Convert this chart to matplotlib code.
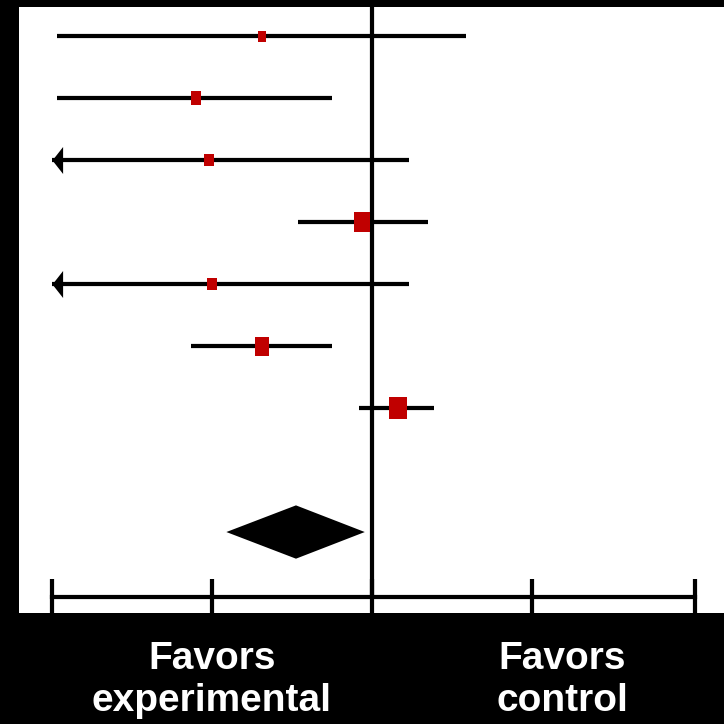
import matplotlib
matplotlib.use("Agg")
import matplotlib.pyplot as plt

# ---- data (log-scale effect units) ----
est = [-0.69, -1.10, -1.02, -0.06, -1.00, -0.69, 0.16]
lo = [-1.97, -1.97, -2.50, -0.46, -2.50, -1.13, -0.08]
hi = [0.59, -0.25, 0.23, 0.35, 0.23, -0.25, 0.39]
weights = [11, 14, 12, 20, 12, 19, 23]   # box heights (px)
pooled_est = -0.475
pooled_lo = -0.91
pooled_hi = -0.045
tick_vals = [-2, -1, 0, 1, 2.02]
labels = ["Favors\nexperimental", "Favors\ncontrol"]
label_x = [-1.0, 1.19]

RED = "#c00000"
PX = 0.72  # points per pixel

fig = plt.figure(figsize=(7.24, 7.24), dpi=100, facecolor="black")
ax = fig.add_axes([19 / 724, 111 / 724, 705 / 724, 606 / 724])
ax.set_facecolor("white")
xmin, xmax = -2.206, 2.2
ax.set_xlim(xmin, xmax)
ax.set_ylim(9.306, -0.468)
for s in ax.spines.values():
    s.set_visible(False)
ax.set_xticks([])
ax.set_yticks([])

axis_y = 9.05
LW = 4.2 * PX
# vertical line of no effect
ax.plot([0, 0], [-0.468, axis_y], color="black", lw=LW, solid_capstyle="butt", zorder=1)

box = [(-0.39, -0.5), (0.39, -0.5), (0.39, 0.5), (-0.39, 0.5), (-0.39, -0.5)]
arrow = [(0, 0), (11, 14), (11, -14), (0, 0)]
for i, (e, l, h, w) in enumerate(zip(est, lo, hi, weights)):
    left = max(l, tick_vals[0])
    ax.plot([left, h], [i, i], color="black", lw=LW, solid_capstyle="butt", zorder=2)
    if l < tick_vals[0]:
        ax.plot([tick_vals[0]], [i], marker=arrow, ms=27 * PX, color="black", mew=0, zorder=3)
    ax.plot([e], [i], marker=box, ms=w * PX, color=RED, mew=0, zorder=4)

# pooled diamond
dh = 0.43
ax.fill([pooled_lo, pooled_est, pooled_hi, pooled_est],
        [8, 8 - dh, 8, 8 + dh], color="black", lw=0, zorder=3)

# bottom axis
ax.plot([tick_vals[0], tick_vals[-1]], [axis_y, axis_y], color="black", lw=LW,
        solid_capstyle="projecting", zorder=2)
for t in tick_vals:
    ax.plot([t, t], [8.76, 9.306], color="black", lw=LW, solid_capstyle="butt", zorder=2)

for lx, lab in zip(label_x, labels):
    fig.text((19 + (lx - xmin) / (xmax - xmin) * 705) / 724, 1 - 680 / 724, lab,
             ha="center", va="center", color="white", fontsize=28, fontweight="bold",
             family="Liberation Sans", linespacing=1.22)

fig.savefig("out.png", dpi=100, facecolor="black")
